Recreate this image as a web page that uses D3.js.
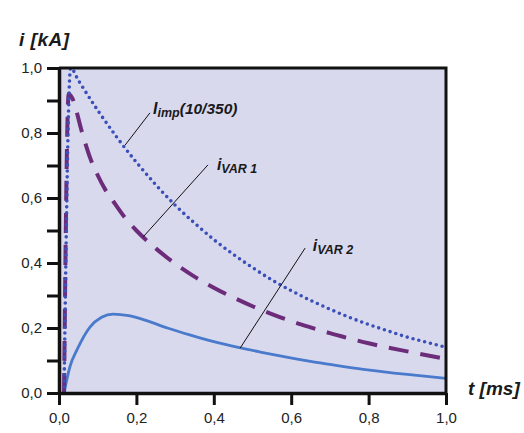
<!DOCTYPE html>
<html><head><meta charset="utf-8">
<script src="https://cdn.jsdelivr.net/npm/d3@7"></script>
<style>body{margin:0;background:#fff}svg{display:block}</style>
</head><body><svg id="c" width="524" height="433"></svg>
<script>
// ---- data ----
const impT = [0.013, 0.03, 0.05, 0.1, 0.15, 0.2, 0.25, 0.3, 0.35, 0.4, 0.45, 0.5, 0.55, 0.6, 0.65, 0.7, 0.75, 0.8, 0.85, 0.9, 0.95, 1.0];
const impI = [0, 1.0, 0.962, 0.87, 0.786, 0.71, 0.641, 0.578, 0.523, 0.472, 0.427, 0.386, 0.348, 0.315, 0.285, 0.258, 0.233, 0.211, 0.191, 0.172, 0.156, 0.141];
const var1T = [0.013, 0.025, 0.033, 0.06, 0.08, 0.1, 0.12, 0.14, 0.17, 0.2, 0.25, 0.3, 0.35, 0.4, 0.45, 0.5, 0.55, 0.6, 0.65, 0.7, 0.75, 0.8, 0.85, 0.9, 0.95, 1.0];
const var1I = [0, 0.92, 0.91, 0.80, 0.725, 0.67, 0.625, 0.59, 0.54, 0.50, 0.445, 0.398, 0.358, 0.324, 0.294, 0.267, 0.243, 0.221, 0.202, 0.184, 0.168, 0.153, 0.14, 0.128, 0.116, 0.105];
const var2T = [0.013, 0.028, 0.047, 0.08, 0.11, 0.14, 0.18, 0.22, 0.28, 0.34, 0.4, 0.46, 0.52, 0.571, 0.65, 0.7, 0.786, 0.9, 1.0];
const var2I = [0, 0.08, 0.134, 0.203, 0.233, 0.243, 0.238, 0.225, 0.2, 0.178, 0.158, 0.141, 0.126, 0.114, 0.097, 0.088, 0.073, 0.057, 0.045];
const xTicks = [0, 0.2, 0.4, 0.6, 0.8, 1.0];
const yTicks = [0, 0.1, 0.2, 0.3, 0.4, 0.5, 0.6, 0.7, 0.8, 0.9, 1.0];
const yLabelTicks = [0, 0.2, 0.4, 0.6, 0.8, 1.0];
const xTitle = "t [ms]";
const yTitle = "i [kA]";
// annotation anchors in data units: [labelT, labelI, lineT0, lineI0, lineT1, lineI1]
const annImp = [0.243, 0.858, 0.171, 0.763, 0.235, 0.862];
const annVar1 = [0.408, 0.686, 0.218, 0.481, 0.385, 0.702];
const annVar2 = [0.656, 0.437, 0.468, 0.138, 0.636, 0.446];

// ---- drawing ----
const svg = d3.select("#c");
const x = d3.scaleLinear().domain([0, 1]).range([59, 446]);
const y = d3.scaleLinear().domain([0, 1]).range([393, 68]);
const fmt = v => d3.format(".1f")(v).replace(".", ",");
const font = "'Liberation Sans', Arial, sans-serif";

svg.append("rect").attr("x", x(0)).attr("y", y(1)).attr("width", x(1) - x(0)).attr("height", y(0) - y(1))
  .attr("fill", "#d9d9ee");

const line = d3.line().x(d => x(d[0])).y(d => y(d[1])).curve(d3.curveMonotoneX);
const zip = (a, b) => a.map((v, i) => [v, b[i]]);

// solid i_VAR2
svg.append("path").datum(zip(var2T, var2I)).attr("d", line)
  .attr("fill", "none").attr("stroke", "#4a7acb").attr("stroke-width", 2.8);
// dashed i_VAR1
svg.append("path").datum(zip(var1T, var1I)).attr("d", line)
  .attr("fill", "none").attr("stroke", "#6c2c7a").attr("stroke-width", 4)
  .attr("stroke-dasharray", "20,12");
// dotted I_imp
svg.append("path").datum(zip(impT, impI)).attr("d", line)
  .attr("fill", "none").attr("stroke", "#3a4fb8").attr("stroke-width", 3.6)
  .attr("stroke-linecap", "round").attr("stroke-dasharray", "0,6");

// frame top/right
svg.append("path")
  .attr("d", `M${x(0)},${y(1)}H${x(1)}V${y(0)}`)
  .attr("fill", "none").attr("stroke", "#111").attr("stroke-width", 3);

// axes
const yAxis = d3.axisLeft(y).tickValues(yTicks).tickSize(12).tickSizeOuter(0).tickPadding(5)
  .tickFormat(v => yLabelTicks.some(t => Math.abs(t - v) < 1e-9) ? fmt(v) : "");
const gy = svg.append("g").attr("transform", `translate(${x(0)},0)`).call(yAxis);
const xAxis = d3.axisBottom(x).tickValues(xTicks).tickSize(12).tickSizeOuter(0).tickPadding(7).tickFormat(fmt);
const gx = svg.append("g").attr("transform", `translate(0,${y(0)})`).call(xAxis);
[gx, gy].forEach(g => {
  g.select(".domain").attr("stroke", "#111").attr("stroke-width", 3.5);
  g.selectAll(".tick line").attr("stroke", "#111").attr("stroke-width", 3);
  g.selectAll(".tick text").attr("font-family", font).attr("font-size", 15).attr("fill", "#222");
});

// axis titles
svg.append("text").attr("x", 19).attr("y", 46).text(yTitle)
  .attr("font-family", font).attr("font-size", 19).attr("letter-spacing", 0.5).attr("font-weight", "bold").attr("font-style", "italic").attr("fill", "#1a1a1a");
svg.append("text").attr("x", 468).attr("y", 395).text(xTitle)
  .attr("font-family", font).attr("font-size", 19).attr("font-weight", "bold").attr("font-style", "italic").attr("fill", "#1a1a1a");

// annotations
function annot(a, main, sub, tail) {
  svg.append("line").attr("x1", x(a[2])).attr("y1", y(a[3])).attr("x2", x(a[4])).attr("y2", y(a[5]))
    .attr("stroke", "#111").attr("stroke-width", 1);
  const t = svg.append("text").attr("x", x(a[0])).attr("y", y(a[1]))
    .attr("font-family", font).attr("font-weight", "bold").attr("font-style", "italic").attr("fill", "#1a1a1a");
  t.append("tspan").attr("font-size", 16).text(main);
  t.append("tspan").attr("font-size", 12.5).attr("dy", 3).text(sub);
  if (tail) t.append("tspan").attr("font-size", 15.5).attr("dy", -3).text(tail);
}
annot(annImp, "I", "imp", "(10/350)");
annot(annVar1, "i", "VAR 1", null);
annot(annVar2, "i", "VAR 2", null);
</script></body></html>
